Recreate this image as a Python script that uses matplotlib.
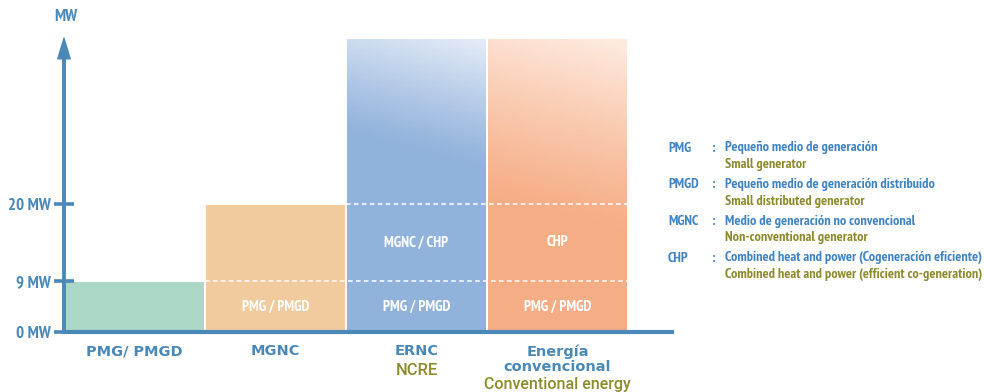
import numpy as np
import matplotlib
matplotlib.use("Agg")
import matplotlib.pyplot as plt
from matplotlib.colors import LinearSegmentedColormap
from matplotlib import font_manager
from matplotlib.font_manager import FontProperties
from matplotlib.textpath import TextPath

# ---------------- data ----------------
categories = ["PMG/ PMGD", "MGNC", "ERNC", "Energía\nconvencional"]
categories_en = ["", "", "NCRE", "Conventional energy"]
bar_tops = [9, 20, 45, 45]          # MW (the last two are open-ended)
levels = [0, 9, 20]                 # MW thresholds
tick_labels = ["0 MW", "9 MW", "20 MW"]
lower_labels = ["", "PMG / PMGD", "PMG / PMGD", "PMG / PMGD"]   # 0-9 MW band
middle_labels = ["", "", "MGNC / CHP", "CHP"]                    # 9-20 MW band
legend_abbr = ["PMG", "PMGD", "MGNC", "CHP"]
legend_es = ["Pequeño medio de generación",
             "Pequeño medio de generación distribuido",
             "Medio de generación no convencional",
             "Combined heat and power (Cogeneración eficiente)"]
legend_en = ["Small generator",
             "Small distributed generator",
             "Non-conventional generator",
             "Combined heat and power (efficient co-generation)"]

# ---------------- style ----------------
BLUE = "#4a88b8"
LBLUE = "#3f83c2"
OLIVE = "#8c8a2c"
bar_colors = ["#aad7c6", "#f1cb9e", "#91b2db", "#f5ad85"]
grad_tops = [None, None, "#e2eaf6", "#fdeadf"]
grad_start = [None, None, 0.62, 0.40]


def font_entries(name, weight):
    entries = [f for f in font_manager.fontManager.ttflist
               if f.name == name and f.style == "normal" and "[" not in f.fname]
    if not entries:
        return None
    return min(entries, key=lambda f: abs(int(f.weight) - weight)
               if str(f.weight).isdigit() else 999)


def ratio(fp):
    w = TextPath((0, 0), "PMG / PMGD", prop=fp, size=10).get_extents().width
    h = TextPath((0, 0), "H", prop=fp, size=10).get_extents().height
    return w / h


def pick_narrow(weight, target):
    prefs = ["Liberation Sans Narrow", "Roboto Condensed", "PT Sans Narrow",
             "Fira Sans Condensed", "IBM Plex Sans Condensed", "Pragati Narrow",
             "Asap Condensed", "Sofia Sans Condensed", "Encode Sans Condensed",
             "Barlow Semi Condensed", "Barlow Condensed", "Ubuntu Condensed"]
    best, bscore = None, 1e9
    for k, n in enumerate(prefs):
        e = font_entries(n, weight)
        if e is None:
            continue
        fp = FontProperties(fname=e.fname)
        try:
            r = ratio(fp)
        except Exception:
            continue
        score = abs(r - target) + 0.04 * k
        if score < bscore:
            best, bscore = fp, score
    if best is None:
        best = FontProperties(family="DejaVu Sans", weight="bold")
    return best


NARROW_B = pick_narrow(700, 6.6)
BOLD = FontProperties(family="DejaVu Sans", weight="bold")
e = font_entries("Roboto", 500)
MED = FontProperties(fname=e.fname) if e else FontProperties(
    family=["Liberation Sans", "DejaVu Sans"], weight="bold")

W, H = 984, 392
fig = plt.figure(figsize=(W / 100, H / 100), dpi=100)
renderer = fig.canvas.get_renderer()


def fit_size(fp, text, target_px, base=10.0):
    p = fig.text(0, 0, text, fontproperties=fp)
    f2 = fp.copy(); f2.set_size(base); p.set_fontproperties(f2)
    w = p.get_window_extent(renderer).width
    p.remove()
    return base * target_px / w


def sized(fp, size):
    f2 = fp.copy(); f2.set_size(size); return f2


base_px = 332          # baseline, pixels from top
top_px = 30            # axes top
left_px, right_px = 64, 672
ax = fig.add_axes([left_px / W, (H - base_px) / H,
                   (right_px - left_px) / W, (base_px - top_px) / H])

# piecewise-linear (not-to-scale) vertical axis
sv = np.array([0, 9, 20, 45, 100])
sp = np.array([0, 51, 128, 294, 294 + 55 * 166 / 25])
fwd = lambda v: np.interp(v, sv, sp)
inv = lambda p: np.interp(p, sp, sv)
ax.set_yscale("function", functions=(fwd, inv))
ax.set_ylim(0, inv(base_px - top_px))
ax.set_xlim(0, (right_px - left_px) / 141.0)

xs = np.arange(len(categories)) + 0.5
bars = ax.bar(xs, bar_tops, width=1.0, color=bar_colors,
              edgecolor="white", linewidth=1.4, zorder=2)

# gradients for the open-ended bars
for i, b in enumerate(bars):
    if grad_tops[i] is None:
        continue
    x0, x1 = b.get_x(), b.get_x() + b.get_width()
    h = b.get_height()
    xe = np.linspace(x0, x1, 40)
    ye = inv(np.linspace(0, fwd(h), 120))
    XC = (xe[:-1] + xe[1:]) / 2
    YC = fwd((ye[:-1] + ye[1:]) / 2) / fwd(h)
    fx = (XC - x0) / (x1 - x0)
    F = YC[:, None] + 0.12 * (fx[None, :] - 0.5)
    s = grad_start[i]
    T = np.clip((F - s) / (1.04 - s), 0, 1) ** 1.15
    cmap = LinearSegmentedColormap.from_list("g", [bar_colors[i], grad_tops[i]])
    m = ax.pcolormesh(xe, ye, T, cmap=cmap, vmin=0, vmax=1,
                      shading="flat", zorder=2.5, linewidth=0, rasterized=True)
    m.set_clip_path(b)
    ax.add_patch(plt.Rectangle((x0, 0), x1 - x0, h, fill=False,
                               edgecolor="white", lw=1.4, zorder=2.6))

# dashed threshold lines inside bars
for lv in levels[1:]:
    idx = [i for i, t in enumerate(bar_tops) if t > lv]
    ax.hlines(lv, bars[idx[0]].get_x(), bars[idx[-1]].get_x() + 1.0,
              colors="white", linestyles=(0, (3, 2.2)), lw=1.1, zorder=3)

# labels inside bars
inner_fp = sized(NARROW_B, fit_size(NARROW_B, "PMG / PMGD", 68))
ymid_low = inv((fwd(levels[0]) + fwd(levels[1])) / 2)
ymid_mid = inv((fwd(levels[1]) + fwd(levels[2])) / 2)
for x, t in zip(xs, lower_labels):
    if t:
        ax.text(x, ymid_low, t, color="white", ha="center", va="center",
                fontproperties=inner_fp, zorder=4)
for x, t in zip(xs, middle_labels):
    if t:
        ax.text(x, ymid_mid, t, color="white", ha="center", va="center",
                fontproperties=inner_fp, zorder=4)

# axes styling
for s in ["top", "right"]:
    ax.spines[s].set_visible(False)
ax.spines["left"].set_color(BLUE)
ax.spines["bottom"].set_color(BLUE)
ax.spines["left"].set_linewidth(2.8)
ax.spines["bottom"].set_linewidth(3.0)
ax.spines["left"].set_bounds(0, inv(base_px - 58))
ax.spines["left"].set_zorder(5)
ax.spines["bottom"].set_zorder(5)
ax.yaxis.set_zorder(5)
ax.set_xticks([])
ax.set_yticks(levels)
ax.set_yticklabels(tick_labels)
ax.yaxis.set_minor_locator(matplotlib.ticker.NullLocator())
ax.tick_params(axis="y", direction="inout", length=14.5, width=2.6,
               color=BLUE, pad=2.5, labelcolor=BLUE)
tick_fp = sized(NARROW_B, fit_size(NARROW_B, "20 MW", 43))
for lab in ax.get_yticklabels():
    lab.set_fontproperties(tick_fp)

# arrow head on the y axis
ax.annotate("", xy=(0, inv(base_px - 36)), xytext=(0, inv(base_px - 58)),
            arrowprops=dict(arrowstyle="-|>,head_length=1.05,head_width=0.32",
                            mutation_scale=14, color=BLUE, lw=1,
                            shrinkA=0, shrinkB=0),
            annotation_clip=False, zorder=6)
ax.text(0.01, inv(base_px - 17), "MW", color=BLUE, ha="center", va="center",
        fontproperties=tick_fp, clip_on=False)

# category labels
cat_fp = sized(BOLD, fit_size(BOLD, "PMG/ PMGD", 96))
ncre_fp = sized(MED, fit_size(MED, "NCRE", 42))
conv_fp = sized(MED, fit_size(MED, "Conventional energy", 147))
for x, c, e in zip(xs, categories, categories_en):
    if "\n" in c:
        l1, l2 = c.split("\n")
        ax.annotate(l1, (x, 0), xytext=(0, -14.5), textcoords="offset points",
                    ha="center", va="center", color=BLUE, fontproperties=cat_fp,
                    annotation_clip=False)
        ax.annotate(l2, (x, 0), xytext=(0, -25.5), textcoords="offset points",
                    ha="center", va="center", color=BLUE, fontproperties=cat_fp,
                    annotation_clip=False)
        ax.annotate(e, (x, 0), xytext=(0, -37.5), textcoords="offset points",
                    ha="center", va="center", color=OLIVE, fontproperties=conv_fp,
                    annotation_clip=False)
    else:
        ax.annotate(c, (x, 0), xytext=(0, -14), textcoords="offset points",
                    ha="center", va="center", color=BLUE, fontproperties=cat_fp,
                    annotation_clip=False)
        if e:
            ax.annotate(e, (x, 0), xytext=(0, -28), textcoords="offset points",
                        ha="center", va="center", color=OLIVE,
                        fontproperties=ncre_fp, annotation_clip=False)

# legend / glossary
leg_fp = sized(NARROW_B, fit_size(NARROW_B, legend_es[3], 256))
row_y = [148, 185, 221, 258]
for k, (a, es, en) in enumerate(zip(legend_abbr, legend_es, legend_en)):
    y = row_y[k]
    kw = dict(fontproperties=leg_fp, va="center")
    fig.text(668 / W, 1 - y / H, a, color=LBLUE, **kw)
    fig.text(712 / W, 1 - y / H, ":", color=LBLUE, **kw)
    fig.text(725 / W, 1 - y / H, es, color=LBLUE, **kw)
    fig.text(725 / W, 1 - (y + 16.5) / H, en, color=OLIVE, **kw)

fig.savefig("out.png", dpi=100)
